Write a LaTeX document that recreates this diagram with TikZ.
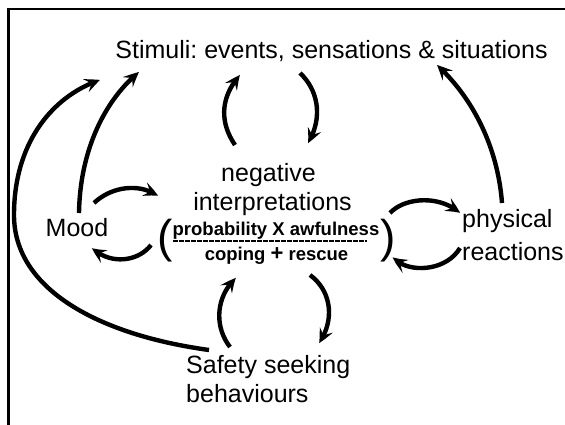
\documentclass[tikz,border=0pt]{standalone}
\usepackage{fontspec}
\setmainfont{Liberation Sans}
\usetikzlibrary{arrows.meta,bending}
\frenchspacing
\begin{document}
\begin{tikzpicture}[x=1pt,y=-1pt,
  lbl/.style={inner sep=0pt,anchor=base,font=\fontsize{25}{30}\selectfont},
  lblw/.style={lbl,anchor=base west},
  frac/.style={inner sep=0pt,anchor=base,font=\fontsize{18.5}{22}\selectfont\bfseries},
  paren/.style={inner sep=0pt,anchor=base,font=\fontsize{46}{50}\selectfont},
  cyc/.style={line width=4.4pt,-{Stealth[length=15pt,width=14pt,inset=6pt,bend]}},
  frame/.style={line width=2.5pt}]
\useasboundingbox (0,0) rectangle (565,424);
\fill[white] (0,0) rectangle (565,424);
% frame (only top and left edges visible)
\draw[frame] (8.7,440) -- (8.7,9.2) -- (580,9.2);

% texts
\node[lbl] (stim) at (331.5,58) {Stimuli: events, sensations \& situations};
\node[lbl] (neg1) at (268.5,181) {negative};
\node[lbl] (neg2) at (272.5,210) {interpretations};
\node[frac] (num) at (276,235) {probability X awfulness};
\node[frac] (den) at (276.5,260) {coping {\fontsize{22}{22}\selectfont+} rescue};
\node[paren] (lpar) at (165.2,252.3) {(};
\node[paren] (rpar) at (388.3,252.3) {)};
\node[lbl] (mood) at (77,236.5) {Mood};
\node[lblw] (phys1) at (462,227) {physical};
\node[lblw] (phys2) at (462,260) {reactions};
\node[lblw] (safe1) at (186,373) {Safety seeking};
\node[lblw] (safe2) at (186,402) {behaviours};

% fraction bar (row of dashes)
\draw[line width=2pt,dash pattern=on 4.6pt off 1.4pt] (173,240.5) -- (367,240.5);

% connector end points
\coordinate (a1s) at (79,213);   \coordinate (a1e) at (139,72);
\coordinate (a2s) at (209,350);  \coordinate (a2m) at (14,215); \coordinate (a2e) at (100,80);
\coordinate (a3s) at (94,203);   \coordinate (a3e) at (158,196);
\coordinate (a4s) at (151,245);  \coordinate (a4e) at (92,248);
\coordinate (a5s) at (235,145);  \coordinate (a5e) at (240,75);
\coordinate (a6s) at (300,73);   \coordinate (a6e) at (308,143);
\coordinate (a7s) at (230,347);  \coordinate (a7e) at (236,278);
\coordinate (a8s) at (310,275);  \coordinate (a8e) at (319,343);
\coordinate (a9s) at (390,213);  \coordinate (a9e) at (460,213);
\coordinate (a10s) at (460,248); \coordinate (a10e) at (393,257);
\coordinate (a11s) at (502,203); \coordinate (a11e) at (437,65);

% Mood -> Stimuli
\draw[cyc] (a1s) .. controls (80,150) and (105,100) .. (a1e);
% Safety seeking -> Stimuli (long loop round the left)
\draw[cyc] (a2s) .. controls (100,335) and (14,290) .. (a2m)
                 .. controls (14,140) and (55,95) .. (a2e);
% Mood <-> interpretations
\draw[cyc] (a3s) .. controls (112,186) and (140,183) .. (a3e);
\draw[cyc] (a4s) .. controls (138,262) and (110,265) .. (a4e);
% interpretations <-> Stimuli
\draw[cyc] (a5s) .. controls (218,120) and (222,95) .. (a5e);
\draw[cyc] (a6s) .. controls (320,92) and (322,120) .. (a6e);
% Safety seeking <-> interpretations
\draw[cyc] (a7s) .. controls (213,325) and (217,295) .. (a7e);
\draw[cyc] (a8s) .. controls (333,292) and (334,322) .. (a8e);
% interpretations <-> physical reactions
\draw[cyc] (a9s) .. controls (405,197) and (440,195) .. (a9e);
\draw[cyc] (a10s) .. controls (445,273) and (405,273) .. (a10e);
% physical reactions -> Stimuli
\draw[cyc] (a11s) .. controls (498,150) and (475,100) .. (a11e);
\end{tikzpicture}
\end{document}
